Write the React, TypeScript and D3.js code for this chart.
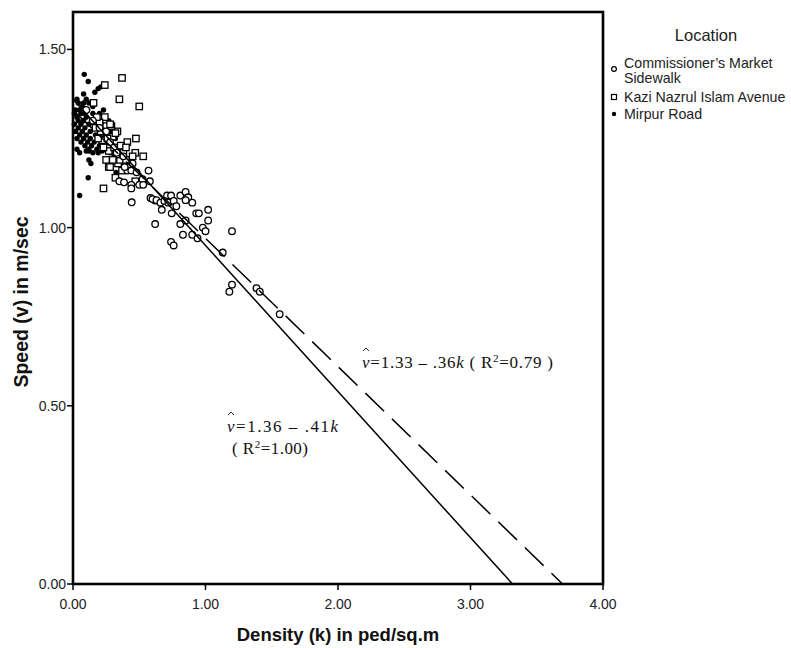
import React from 'react';
import * as d3 from 'd3';

const xTicks = [0, 1, 2, 3, 4];
const yTicks = [0, 0.5, 1, 1.5];
const legendTitle = 'Location';
const seriesNames = ['Commissioner’s Market', 'Sidewalk', 'Kazi Nazrul Islam Avenue', 'Mirpur Road'];
const xTitle = 'Density (k) in ped/sq.m';
const yTitle = 'Speed (v) in m/sec';

// [density k, speed v]
const commissioner: [number, number][] = [
  [0.10, 1.33], [0.15, 1.30], [0.20, 1.28], [0.28, 1.24], [0.33, 1.21], [0.25, 1.27], [0.38, 1.20],
  [0.41, 1.16], [0.44, 1.16], [0.48, 1.155], [0.57, 1.16], [0.35, 1.13], [0.385, 1.127], [0.44, 1.12],
  [0.50, 1.12], [0.525, 1.136], [0.585, 1.083], [0.62, 1.076], [0.443, 1.071], [0.44, 1.11], [0.53, 1.12],
  [0.58, 1.13], [0.45, 1.18], [0.39, 1.17],
  [0.60, 1.08], [0.63, 1.077], [0.66, 1.07], [0.67, 1.05], [0.71, 1.09], [0.74, 1.09], [0.745, 1.04],
  [0.81, 1.09], [0.85, 1.10], [0.87, 1.085], [0.90, 1.07], [1.02, 1.05], [1.02, 1.02], [0.93, 1.04],
  [0.95, 1.04], [0.81, 1.01], [0.85, 1.02], [0.98, 1.00], [1.00, 0.99], [0.83, 0.98], [0.90, 0.98],
  [0.94, 0.97], [0.74, 0.96], [0.76, 0.95], [0.62, 1.01], [0.69, 1.075], [0.72, 1.07], [0.76, 1.075],
  [0.85, 1.077], [0.78, 1.06],
  [1.20, 0.99], [1.13, 0.93], [1.20, 0.84], [1.18, 0.82], [1.385, 0.83], [1.41, 0.82], [1.56, 0.757],
];

const kazi: [number, number][] = [
  [0.37, 1.42], [0.24, 1.40], [0.35, 1.36], [0.50, 1.34], [0.155, 1.35], [0.23, 1.11], [0.475, 1.25],
  [0.47, 1.21], [0.41, 1.24], [0.335, 1.27], [0.34, 1.18], [0.27, 1.17], [0.32, 1.14], [0.47, 1.13],
  [0.355, 1.19], [0.24, 1.31], [0.25, 1.285], [0.22, 1.245], [0.20, 1.295], [0.27, 1.215], [0.30, 1.255],
  [0.25, 1.19], [0.18, 1.31], [0.21, 1.27], [0.29, 1.285], [0.31, 1.225], [0.33, 1.205], [0.36, 1.23],
  [0.38, 1.21], [0.26, 1.25], [0.23, 1.225], [0.28, 1.29], [0.32, 1.265], [0.19, 1.25], [0.17, 1.28],
  [0.40, 1.19], [0.43, 1.17], [0.37, 1.16], [0.30, 1.19], [0.53, 1.20], [0.28, 1.17], [0.40, 1.225],
  [0.45, 1.20],
];

const mirpur: [number, number][] = [
  [0.085, 1.43], [0.115, 1.41], [0.03, 1.36], [0.08, 1.375], [0.165, 1.38], [0.19, 1.39], [0.21, 1.395],
  [0.05, 1.09], [0.115, 1.14], [0.12, 1.19], [0.135, 1.18], [0.325, 1.155],
  [0.02, 1.33], [0.03, 1.31], [0.04, 1.30], [0.05, 1.33], [0.06, 1.32], [0.07, 1.34], [0.08, 1.30],
  [0.09, 1.28], [0.10, 1.31], [0.11, 1.33], [0.12, 1.29], [0.13, 1.27], [0.14, 1.30], [0.15, 1.32],
  [0.16, 1.28], [0.17, 1.26], [0.18, 1.30], [0.20, 1.27], [0.21, 1.25], [0.22, 1.29], [0.24, 1.26],
  [0.25, 1.24], [0.26, 1.28], [0.28, 1.25], [0.30, 1.23], [0.02, 1.27], [0.03, 1.25], [0.04, 1.28],
  [0.05, 1.26], [0.06, 1.24], [0.07, 1.27], [0.08, 1.25], [0.09, 1.23], [0.10, 1.26], [0.11, 1.24],
  [0.12, 1.22], [0.13, 1.25], [0.14, 1.23], [0.15, 1.21], [0.16, 1.24], [0.18, 1.22], [0.19, 1.21],
  [0.20, 1.23], [0.22, 1.215], [0.24, 1.22], [0.26, 1.215], [0.28, 1.21], [0.10, 1.215], [0.12, 1.215],
  [0.03, 1.22], [0.05, 1.21], [0.08, 1.35], [0.12, 1.35], [0.15, 1.34], [0.04, 1.35], [0.01, 1.29],
  [0.10, 1.36], [0.23, 1.33], [0.27, 1.30], [0.29, 1.27], [0.32, 1.25], [0.34, 1.22], [0.01, 1.32],
  [0.06, 1.29], [0.09, 1.32], [0.17, 1.31], [0.20, 1.32], [0.35, 1.19], [0.31, 1.20],
];

// fit lines: intercept, slope
const fitSolid = [1.36, -0.41];
const fitDashed = [1.33, -0.36];

const SANS = 'Liberation Sans, Arial, sans-serif';
const SERIF = 'Liberation Serif, Times New Roman, serif';

function Hat({ cx, cy }: { cx: number; cy: number }) {
  return <path d={`M${cx - 3},${cy + 3} L${cx},${cy} L${cx + 3},${cy + 3}`} fill="none" stroke="#111" strokeWidth={0.9} />;
}

export default function App() {
  const W = 791, H = 648;
  const x = d3.scaleLinear().domain([0, 4]).range([73, 603]);
  const y = d3.scaleLinear().domain([0, 1.605]).range([584, 12]);

  const fitPath = (f: number[]) => {
    const kEnd = -f[0] / f[1];
    const pts: [number, number][] = [[0, f[0]], [kEnd, 0]];
    return d3.line<[number, number]>().x(d => x(d[0])).y(d => y(d[1]))(pts) || '';
  };

  return (
    <svg width={W} height={H} style={{ position: 'absolute', left: 0, top: 0, background: '#fff' }}>
      <rect x={0} y={0} width={W} height={H} fill="#fff" />
      {/* markers */}
      <g>
        {mirpur.map((d, i) => (
          <circle key={'m' + i} cx={x(d[0])} cy={y(d[1])} r={2.7} fill="#000" />
        ))}
        {kazi.map((d, i) => (
          <rect key={'k' + i} x={x(d[0]) - 3.2} y={y(d[1]) - 3.2} width={6.4} height={6.4}
            fill="#fff" stroke="#000" strokeWidth={1.3} />
        ))}
        {commissioner.map((d, i) => (
          <circle key={'c' + i} cx={x(d[0])} cy={y(d[1])} r={3.3} fill="#fff" stroke="#000" strokeWidth={1.3} />
        ))}
      </g>
      {/* fit lines */}
      <path d={fitPath(fitSolid)} fill="none" stroke="#000" strokeWidth={1.5} />
      <path d={fitPath(fitDashed)} fill="none" stroke="#000" strokeWidth={1.5} strokeDasharray="26,11" />
      {/* frame */}
      <rect x={73} y={12} width={530} height={572} fill="none" stroke="#000" strokeWidth={2.6} />
      {/* y axis ticks */}
      {yTicks.map(t => (
        <g key={'yt' + t}>
          <line x1={67} x2={73} y1={y(t)} y2={y(t)} stroke="#000" strokeWidth={1.5} />
          <text x={66} y={y(t) + 5} textAnchor="end" fontFamily={SANS} fontSize={14} fill="#222">{d3.format('.2f')(t)}</text>
        </g>
      ))}
      {xTicks.map(t => (
        <g key={'xt' + t}>
          <line x1={x(t)} x2={x(t)} y1={584} y2={590} stroke="#000" strokeWidth={1.5} />
          <text x={x(t)} y={609} textAnchor="middle" fontFamily={SANS} fontSize={14} fill="#222">{d3.format('.2f')(t)}</text>
        </g>
      ))}
      {/* axis titles */}
      <text x={338} y={641} textAnchor="middle" fontFamily={SANS} fontSize={18.5} fontWeight="bold" fill="#111">{xTitle}</text>
      <text transform="translate(28,302) rotate(-90)" textAnchor="middle" fontFamily={SANS} fontSize={19.5} fontWeight="bold" fill="#111">{yTitle}</text>
      {/* legend */}
      <text x={706} y={41} textAnchor="middle" fontFamily={SANS} fontSize={16.5} fill="#222">{legendTitle}</text>
      <circle cx={614} cy={69} r={2.4} fill="#fff" stroke="#000" strokeWidth={1.2} />
      <text x={624} y={68} fontFamily={SANS} fontSize={14.2} fill="#222">{seriesNames[0]}</text>
      <text x={624} y={83} fontFamily={SANS} fontSize={14.2} fill="#222">{seriesNames[1]}</text>
      <rect x={611.5} y={94.5} width={5} height={5} fill="#fff" stroke="#000" strokeWidth={1.2} />
      <text x={624} y={102} fontFamily={SANS} fontSize={14.2} fill="#222">{seriesNames[2]}</text>
      <circle cx={614} cy={114} r={2.2} fill="#000" />
      <text x={624} y={119} fontFamily={SANS} fontSize={14.2} fill="#222">{seriesNames[3]}</text>
      {/* equations */}
      <Hat cx={366} cy={348} />
      <text x={362} y={368} fontFamily={SERIF} fontSize={17} fill="#111" textLength={191} lengthAdjust="spacing">
        <tspan fontStyle="italic">v</tspan>=1.33 – .36<tspan fontStyle="italic">k</tspan> ( R<tspan dy={-6} fontSize={11}>2</tspan><tspan dy={6}>=0.79 )</tspan>
      </text>
      <Hat cx={231} cy={412} />
      <text x={227} y={432} fontFamily={SERIF} fontSize={17} fill="#111" textLength={111} lengthAdjust="spacing">
        <tspan fontStyle="italic">v</tspan>=1.36 – .41<tspan fontStyle="italic">k</tspan>
      </text>
      <text x={232} y={454} fontFamily={SERIF} fontSize={17} fill="#111" textLength={76} lengthAdjust="spacing">
        ( R<tspan dy={-6} fontSize={11}>2</tspan><tspan dy={6}>=1.00)</tspan>
      </text>
    </svg>
  );
}
